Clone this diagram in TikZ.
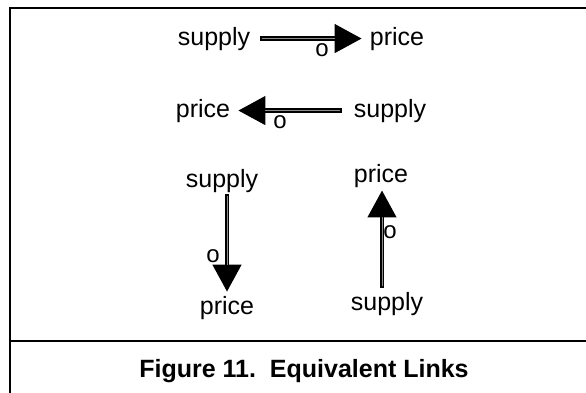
\documentclass[tikz,border=0pt]{standalone}
\usepackage{fontspec}
\setmainfont{Liberation Sans}
\usetikzlibrary{arrows.meta}
\tikzset{
  lbl/.style={inner sep=0pt, font=\fontsize{25}{30}\selectfont},
  olbl/.style={inner sep=0pt, font=\fontsize{24}{28}\selectfont},
  captext/.style={inner sep=0pt, font=\fontsize{25}{30}\selectfont\bfseries},
  frameline/.style={line width=2.6pt, line cap=rect},
  arr/.style={line width=4.4pt, -{Triangle[length=27pt,width=28pt]},
    postaction={draw=white!55!black, line width=1pt, -, shorten >=27pt, shorten <=1.8pt}}
}
\begin{document}
\begin{tikzpicture}[x=1pt,y=-1pt]
\useasboundingbox (0,0) rectangle (586,392);
\fill[white] (0,0) rectangle (586,392);
% frame
\draw[frameline] (10,394) -- (10,8) -- (588,8);
\draw[frameline] (10,341) -- (588,341);
% row 1
\node[lbl, anchor=base] (s1) at (214,45) {supply};
\node[lbl, anchor=base] (p1) at (397,45) {price};
\draw[arr] ([xshift=10pt]s1.east) -- ([xshift=-8pt]p1.west);
\node[olbl] (o1) at (322,50) {o};
% row 2
\node[lbl, anchor=base] (p2) at (203,117) {price};
\node[lbl, anchor=base] (s2) at (390,117) {supply};
\draw[arr] ([xshift=-12pt]s2.west) -- ([xshift=8pt]p2.east);
\node[olbl] (o2) at (280,122) {o};
% left column
\node[lbl, anchor=base] (s3) at (222,187) {supply};
\node[lbl, anchor=base] (p3) at (227,314) {price};
\draw[arr] ([xshift=5pt,yshift=-2pt]s3.south) -- ([yshift=4pt]p3.north);
\node[olbl] (o3) at (213,256) {o};
% right column
\node[lbl, anchor=base] (s4) at (387,310) {supply};
\node[lbl, anchor=base] (p4) at (381,182) {price};
\draw[arr] ([xshift=-5pt,yshift=4pt]s4.north) -- ([xshift=1pt,yshift=-3pt]p4.south);
\node[olbl] (o4) at (390,232) {o};
% caption
\node[captext, anchor=base] (c) at (304,377) {Figure 11.\ \ Equivalent Links};
\end{tikzpicture}
\end{document}
